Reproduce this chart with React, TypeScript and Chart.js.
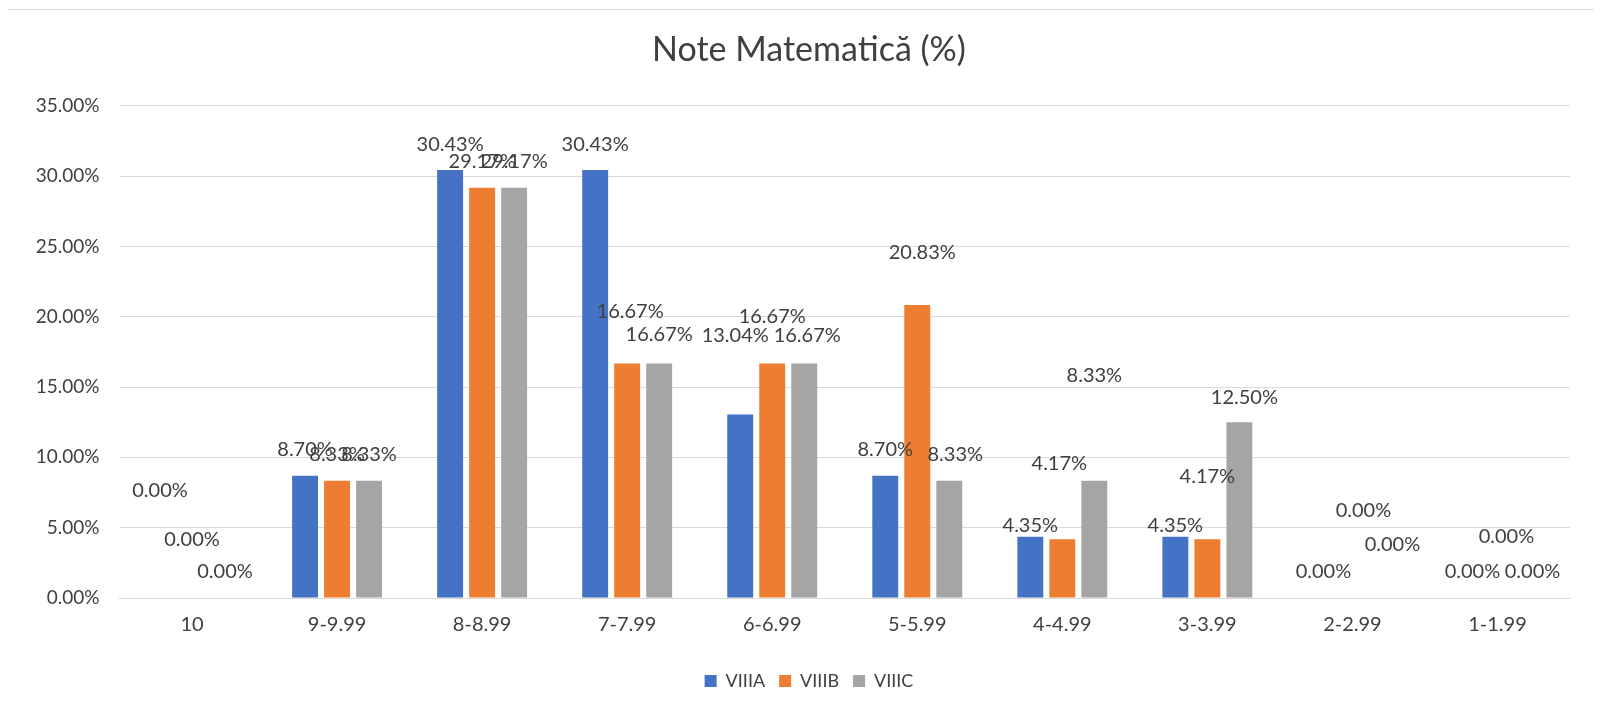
import { useEffect, useRef } from 'react';
import { Chart, registerables } from 'chart.js';

Chart.register(...registerables);

const categories = ['10', '9-9.99', '8-8.99', '7-7.99', '6-6.99', '5-5.99', '4-4.99', '3-3.99', '2-2.99', '1-1.99'];
const seriesNames = ['VIIIA', 'VIIIB', 'VIIIC'];
const viiiA = [0, 8.70, 30.43, 30.43, 13.04, 8.70, 4.35, 4.35, 0, 0];
const viiiB = [0, 8.33, 29.17, 16.67, 16.67, 20.83, 4.17, 4.17, 0, 0];
const viiiC = [0, 8.33, 29.17, 16.67, 16.67, 8.33, 8.33, 12.50, 0, 0];
const yMin = 0;
const yMax = 35;
const yStep = 5;

// label nudges (style only), px relative to the default "outside end" spot
const labelDxA = [0, 0, 0, 0, -5, 0, 0, 0, 3, 7];
const labelDyA = [-81, 0, 0, 0, -53, 0, 15, 15, 0, 0];
const labelDxB = [0, 0, 0, 3, 0, 5, -3, 0, 11, 9];
const labelDyB = [-32, 0, 0, -26, -21, -27, -50, -37, -61, -35];
const labelDxC = [1, 0, 0, 0, 3, 6, 0, 5, 8, 3];
const labelDyC = [0, 0, 0, -3, -2, 0, -79, 1, -27, 0];

const colors = ['#4472C4', '#ED7D31', '#A5A5A5'];
const FONT = 'Lato';
const TEXT = '#404040';

const dataLabelPlugin = {
  id: 'excelDataLabels',
  afterDatasetsDraw(chart: any) {
    const ctx = chart.ctx;
    const dxs = [labelDxA, labelDxB, labelDxC];
    const dys = [labelDyA, labelDyB, labelDyC];
    ctx.save();
    ctx.font = `20px ${FONT}`;
    ctx.fillStyle = TEXT;
    ctx.textAlign = 'center';
    ctx.textBaseline = 'middle';
    chart.data.datasets.forEach((ds: any, i: number) => {
      const meta = chart.getDatasetMeta(i);
      meta.data.forEach((el: any, j: number) => {
        const v = ds.data[j] as number;
        const txt = v.toFixed(2) + '%';
        ctx.fillText(txt, el.x + dxs[i][j], el.y - 26 + dys[i][j]);
      });
    });
    ctx.restore();
  },
};

export default function App() {
  const ref = useRef<HTMLCanvasElement | null>(null);
  useEffect(() => {
    if (!ref.current) return;
    const chart = new Chart(ref.current, {
      type: 'bar',
      data: {
        labels: categories,
        datasets: [viiiA, viiiB, viiiC].map((d, i) => ({
          label: seriesNames[i],
          data: d,
          backgroundColor: colors[i],
          borderWidth: 0,
          categoryPercentage: 0.662,
          barPercentage: 0.81,
          yAxisID: 'y',
        })),
      },
      options: {
        animation: false,
        responsive: false,
        maintainAspectRatio: false,
        layout: { padding: { top: 0, left: 0, right: 0, bottom: 12 } },
        plugins: {
          title: {
            display: true,
            text: 'Note Matematică (%)',
            color: TEXT,
            font: { family: FONT, size: 34, weight: 'normal' },
            padding: { top: 20, bottom: 35 },
          },
          legend: {
            position: 'bottom',
            labels: {
              boxWidth: 12,
              boxHeight: 12,
              padding: 14,
              color: TEXT,
              font: { family: FONT, size: 18 },
            },
          },
          tooltip: { enabled: false },
        },
        scales: {
          x: {
            grid: { display: false, drawTicks: false },
            border: { display: true, color: '#D9D9D9', width: 1 },
            ticks: { color: TEXT, font: { family: FONT, size: 20 }, padding: 15 },
            afterFit: (s: any) => { s.height = 60; },
          },
          y: {
            min: yMin,
            max: yMax,
            ticks: {
              stepSize: yStep,
              color: TEXT,
              font: { family: FONT, size: 19 },
              padding: 20,
              callback: (v: any) => Number(v).toFixed(2) + '%',
            },
            grid: { color: '#D9D9D9', lineWidth: 1, drawTicks: false },
            border: { display: false },
            afterFit: (s: any) => { s.width = 113.5; },
          },
          y2: {
            position: 'right',
            min: yMin,
            max: yMax,
            grid: { display: false, drawTicks: false },
            border: { display: false },
            ticks: { display: false },
            afterFit: (s: any) => { s.width = 42; },
          },
        },
      },
      plugins: [dataLabelPlugin],
    } as any);
    return () => chart.destroy();
  }, []);
  return (
    <div
      style={{
        marginLeft: -3,
        marginTop: 1,
        width: 1594,
        height: 703,
        overflow: 'hidden',
        borderTop: '1px solid #D9D9D9',
        borderLeft: '1px solid #D9D9D9',
        background: '#fff',
      }}
    >
      <canvas ref={ref} width={1606} height={702} style={{ display: 'block' }} />
    </div>
  );
}
